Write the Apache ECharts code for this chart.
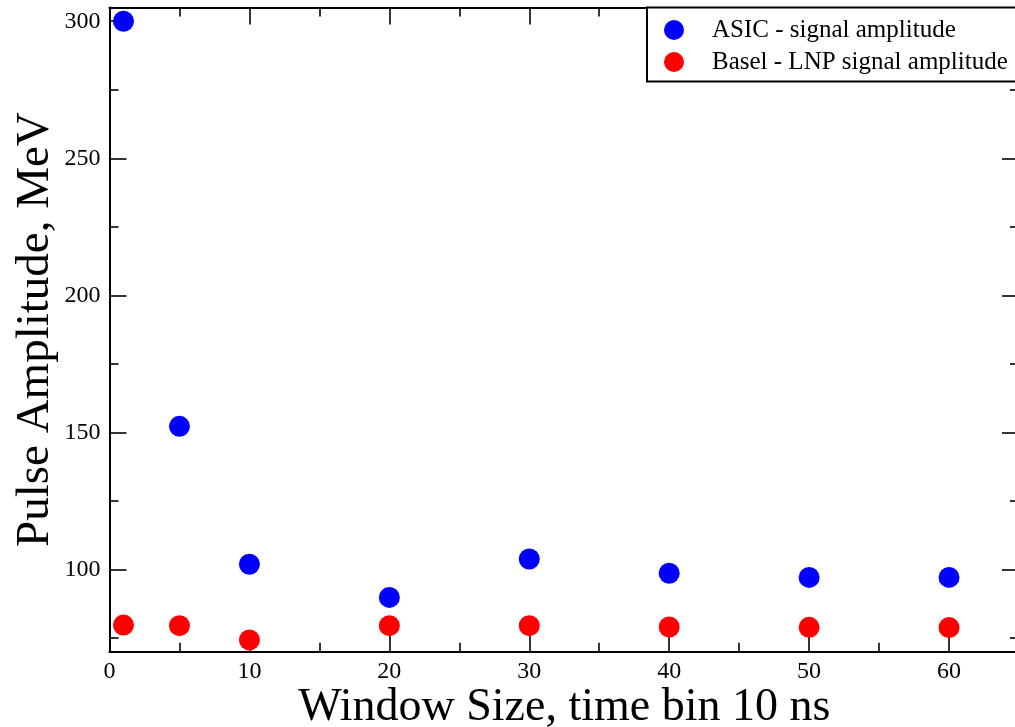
<!DOCTYPE html>
<html>
<head>
<meta charset="utf-8">
<script src="https://cdn.jsdelivr.net/npm/echarts@6/dist/echarts.min.js"></script>
<style>
html,body{margin:0;padding:0;background:#fff;}
#chart{width:1015px;height:727px;}
</style>
</head>
<body>
<div id="chart"></div>
<script>
const windowSizes = [1, 5, 10, 20, 30, 40, 50, 60];
const asicAmplitude = [300, 152.2, 101.9, 89.8, 103.8, 98.6, 97.1, 97.1];
const baselAmplitude = [79.7, 79.5, 74.3, 79.5, 79.5, 79.0, 78.9, 78.8];
const xMajorTicks = [0, 10, 20, 30, 40, 50, 60];
const xMinorTicks = [5, 15, 25, 35, 45, 55];
const yMajorTicks = [100, 150, 200, 250, 300];
const yMinorTicks = [75, 125, 175, 225, 275];
const seriesNames = ['ASIC - signal amplitude', 'Basel - LNP signal amplitude'];
const xTitle = 'Window Size, time bin 10 ns';
const yTitle = 'Pulse Amplitude, MeV';

const FONT = '"Liberation Serif", "Times New Roman", serif';
const X_MIN = 0, X_MAX = 65, Y_MIN = 70, Y_MAX = 305;
const lineStyle = {color: '#000', width: 2};
const tickLine = {color: '#000', width: 1.6};

function xAx(pos, ticks, len, opts) {
  return Object.assign({
    type: 'value', position: pos, min: X_MIN, max: X_MAX,
    axisLine: {show: false, onZero: false},
    axisTick: {show: true, inside: true, length: len, customValues: ticks, lineStyle: tickLine},
    axisLabel: {show: false},
    splitLine: {show: false}
  }, opts || {});
}
function yAx(pos, ticks, len, opts) {
  return Object.assign({
    type: 'value', position: pos, min: Y_MIN, max: Y_MAX,
    axisLine: {show: false, onZero: false},
    axisTick: {show: true, inside: true, length: len, customValues: ticks, lineStyle: tickLine},
    axisLabel: {show: false},
    splitLine: {show: false}
  }, opts || {});
}

const chart = echarts.init(document.getElementById('chart'), null, {renderer: 'canvas'});
chart.setOption({
  backgroundColor: '#fff',
  animation: false,
  grid: {left: 109.5, top: 7.5, right: -4, bottom: 75.3, containLabel: false, outerBoundsMode: 'none'},
  legend: {
    orient: 'vertical', left: 647, top: 7.5,
    padding: [10, 10, 7, 17],
    itemGap: 7, itemWidth: 20, itemHeight: 20,
    borderColor: '#000', borderWidth: 2, backgroundColor: '#fff',
    icon: 'circle',
    textStyle: {fontFamily: FONT, fontSize: 25, color: '#000', lineHeight: 20, padding: [0, 0, 0, 23]},
    data: seriesNames
  },
  xAxis: [
    xAx('bottom', xMajorTicks, 17, {
      axisLine: {show: true, onZero: false, lineStyle: lineStyle},
      axisLabel: {show: true, customValues: xMajorTicks, fontFamily: FONT, fontSize: 24, color: '#000', margin: 8},
      name: xTitle, nameLocation: 'middle', nameGap: 33, nameMoveOverlap: false,
      nameTextStyle: {fontFamily: FONT, fontSize: 46, color: '#000'}
    }),
    xAx('bottom', xMinorTicks, 9),
    xAx('top', xMajorTicks, 17, {axisLine: {show: true, onZero: false, lineStyle: lineStyle}}),
    xAx('top', xMinorTicks, 9)
  ],
  yAxis: [
    yAx('left', yMajorTicks, 17, {
      axisLine: {show: true, onZero: false, lineStyle: lineStyle},
      axisLabel: {show: true, customValues: yMajorTicks, fontFamily: FONT, fontSize: 24, color: '#000', margin: 9},
      name: yTitle, nameLocation: 'middle', nameGap: 50, nameRotate: 90, nameMoveOverlap: false,
      nameTextStyle: {fontFamily: FONT, fontSize: 47, color: '#000'}
    }),
    yAx('left', yMinorTicks, 9),
    yAx('right', yMajorTicks, 17, {axisLine: {show: true, onZero: false, lineStyle: lineStyle}}),
    yAx('right', yMinorTicks, 9)
  ],
  series: [
    {
      name: seriesNames[0], type: 'scatter', xAxisIndex: 0, yAxisIndex: 0,
      symbol: 'circle', symbolSize: 21,
      itemStyle: {color: '#0000ff', opacity: 1},
      data: windowSizes.map((x, i) => [x, asicAmplitude[i]])
    },
    {
      name: seriesNames[1], type: 'scatter', xAxisIndex: 0, yAxisIndex: 0,
      symbol: 'circle', symbolSize: 21,
      itemStyle: {color: '#ff0000', opacity: 1},
      data: windowSizes.map((x, i) => [x, baselAmplitude[i]])
    }
  ]
});
</script>
</body>
</html>
